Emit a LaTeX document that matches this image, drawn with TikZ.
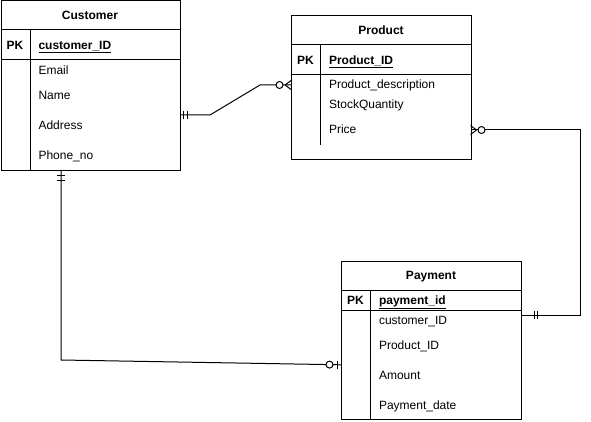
\documentclass[tikz,border=0pt]{standalone}
\usepackage{fontspec}
\setmainfont{Liberation Sans}
\begin{document}
\begin{tikzpicture}[x=1pt,y=-1pt,line width=1pt,
  box/.style={draw,rectangle,inner sep=0pt,anchor=north west},
  title/.style={font=\fontsize{12}{14}\selectfont\bfseries,text height=9pt,text depth=2.5pt,inner sep=0pt,yshift=-1pt},
  pk/.style={font=\fontsize{12}{14}\selectfont\bfseries,text height=9pt,text depth=2.5pt,inner sep=0pt,yshift=-1pt},
  attr/.style={font=\fontsize{12}{14}\selectfont,anchor=west,text height=9pt,text depth=2.5pt,inner sep=0pt,yshift=-1pt},
  key/.style={attr,font=\fontsize{12}{14}\selectfont\bfseries},
  conn/.style={draw,line width=1pt},
  ring/.style={draw,circle,fill=white,minimum size=7pt,inner sep=0pt,line width=1pt}]
\useasboundingbox (0,0) rectangle (591,422);

% Customer
\node[box,minimum width=179.5pt,minimum height=169.5pt] (cust) at (0.5,0.5) {};
\draw (0.5,30) -- (180,30) (0.5,60) -- (180,60) (30,30) -- (30,170);
\node[title] (custT) at (90,15) {Customer};
\node[pk] (custPK) at (15,45) {PK};
\node[key] (custK) at (38,45) {\underline{customer\_ID}};
\node[attr] (custA1) at (38,70) {Email};
\node[attr] (custA2) at (38,95) {Name};
\node[attr] (custA3) at (38,125) {Address};
\node[attr] (custA4) at (38,155) {Phone\_no};

% Product
\node[box,minimum width=179.5pt,minimum height=143.5pt] (prod) at (291,15.5) {};
\draw (291,45) -- (470.5,45) (291,75) -- (470.5,75) (320.5,45) -- (320.5,145);
\node[title] (prodT) at (381,30) {Product};
\node[pk] (prodPK) at (305.5,60) {PK};
\node[key] (prodK) at (328.5,60) {\underline{Product\_ID}};
\node[attr] (prodA1) at (328.5,84) {Product\_description};
\node[attr] (prodA2) at (328.5,104) {StockQuantity};
\node[attr] (prodA3) at (328.5,129) {Price};

% Payment
\node[box,minimum width=179.5pt,minimum height=158.5pt] (pay) at (341,260.5) {};
\draw (341,290) -- (520.5,290) (341,310.5) -- (520.5,310.5) (370.5,290) -- (370.5,419);
\node[title] (payT) at (431,275) {Payment};
\node[pk] (payPK) at (355.5,300) {PK};
\node[key] (payK) at (378.5,300) {\underline{payment\_id}};
\node[attr] (payA1) at (378.5,320) {customer\_ID};
\node[attr] (payA2) at (378.5,345) {Product\_ID};
\node[attr] (payA3) at (378.5,375) {Amount};
\node[attr] (payA4) at (378.5,405) {Payment\_date};

% connector ends
\coordinate (c1a) at (180,115);
\coordinate (c1b) at (291,85);
\coordinate (c2a) at (470.5,130);
\coordinate (c2b) at (520.5,315);
\coordinate (c3a) at (61,170);
\coordinate (c3b) at (341,364.8);

% Customer -- Product
\draw[conn] (c1a) -- (210,115) -- (260,85) -- (c1b);
\draw (183.5,111) -- (183.5,119) (187.5,111) -- (187.5,119);
\draw (c1b) ++(-6,0) -- ++(6,-4.5) (c1b) ++(-6,0) -- ++(6,4.5);
\node[ring] (r1) at (279.5,85) {};

% Product -- Payment
\draw[conn] (c2a) -- (580,130) -- (580,315) -- (c2b);
\draw (534,311) -- (534,319) (537.5,311) -- (537.5,319);
\draw (c2a) ++(6,0) -- ++(-6,-4.5) (c2a) ++(6,0) -- ++(-6,4.5);
\node[ring] (r2) at (481.5,130) {};

% Customer -- Payment
\draw[conn] (c3a) -- (61,360) -- (c3b);
\draw (57,176) -- (65,176) (57,181) -- (65,181);
\draw (337,360.8) -- (337,368.8);
\node[ring] (r3) at (329.5,364.6) {};
\end{tikzpicture}
\end{document}
